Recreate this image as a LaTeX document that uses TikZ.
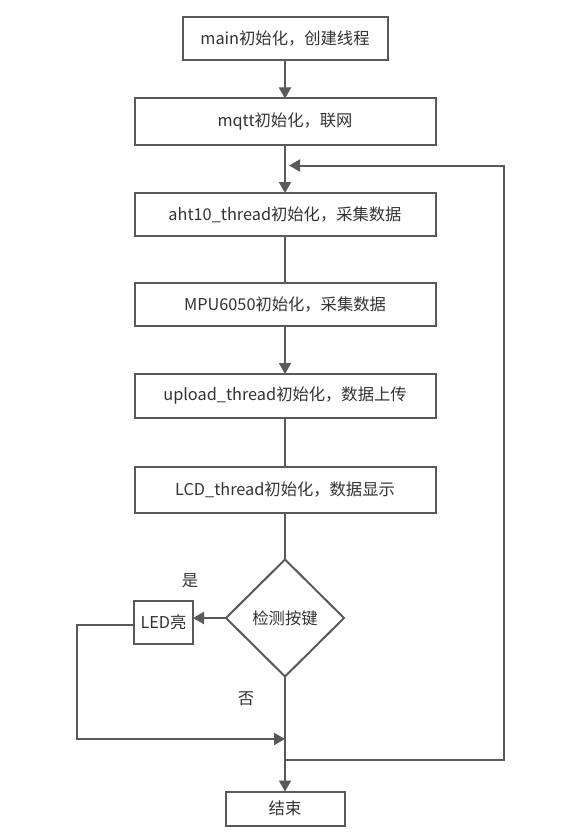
\documentclass[tikz,border=0pt]{standalone}
\usepackage{fontspec}
\setmainfont{Noto Sans CJK SC}
\usetikzlibrary{arrows.meta,shapes.geometric}
\definecolor{linegray}{HTML}{595959}
\definecolor{txtgray}{HTML}{333333}
\begin{document}
\begin{tikzpicture}[x=1pt,y=-1pt,
  every node/.append style={font=\fontsize{16.3}{19}\selectfont, text=txtgray},
  procbox/.style={draw=linegray, line width=2pt, fill=white, inner sep=0pt, outer sep=0pt,
    minimum height=44pt},
  decbox/.style={diamond, draw=linegray, line width=2pt, fill=white, inner sep=0pt, outer sep=0pt,
    minimum width=118pt, minimum height=117pt},
  conn/.style={draw=linegray, line width=2pt},
  flow/.style={conn, -{Triangle[width=12pt,length=11pt]}},
  lbl/.style={inner sep=0pt}
]
\useasboundingbox (0,0) rectangle (567,840);
\fill[white] (0,0) rectangle (567,840);

% process steps
\node[procbox, minimum width=205pt, minimum height=43pt] (main) at (285,39) {main初始化，创建线程};
\node[procbox, minimum width=301pt, minimum height=46pt] (mqtt) at (285,121.5) {mqtt初始化，联网};
\node[procbox, minimum width=301pt, minimum height=43pt] (aht) at (285,214.5) {aht10\_thread初始化，采集数据};
\node[procbox, minimum width=301pt, minimum height=43pt] (mpu) at (285,304.5) {MPU6050初始化，采集数据};
\node[procbox, minimum width=301pt, minimum height=44pt] (upl) at (285,396) {upload\_thread初始化，数据上传};
\node[procbox, minimum width=301pt, minimum height=46pt] (lcd) at (285,490) {LCD\_thread初始化，数据显示};

% key check and branches
\node[decbox] (key) at (285,618) {检测按键};
\node[procbox, minimum width=59pt, minimum height=43pt] (led) at (163.5,622.5) {LED亮};
\node[procbox, minimum width=119pt, minimum height=34pt] (fin) at (285,808.5) {结束};

\node[lbl] (yes) at (190,581) {是};
\node[lbl] (no) at (246,699) {否};

\coordinate (merge) at (285,739);
\coordinate (back) at (285,760);
\coordinate (loopin) at (289,165.5);

% connectors
\draw[flow] (main) -- (mqtt);
\draw[flow] (mqtt) -- (aht);
\draw[conn] (aht) -- (mpu);
\draw[flow] (mpu) -- (upl);
\draw[conn] (upl) -- (lcd);
\draw[conn] (lcd) -- (key);
\draw[flow] (key.west) -- (key.west -| led.east);
\draw[flow] ([yshift=-2pt]led.west) -- ++(-57,0) |- (merge);
\draw[flow] (key.south) -- (fin.north);
\draw[flow] (back) -- ++(219,0) |- (loopin);
\end{tikzpicture}
\end{document}
